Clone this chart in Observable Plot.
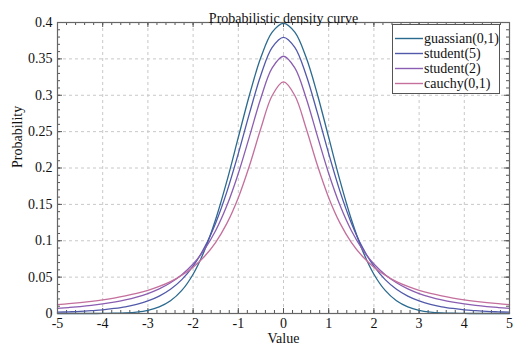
<!DOCTYPE html>
<html>
<head>
<meta charset="utf-8">
<script src="https://cdn.jsdelivr.net/npm/d3@7"></script>
<script src="https://cdn.jsdelivr.net/npm/@observablehq/plot@0.6"></script>
<style>
  body { margin: 0; background: #fff; }
  #wrap { position: relative; width: 531px; height: 354px; font-family: 'Liberation Serif', 'DejaVu Serif', serif; }
  #legend { position: absolute; left: 392px; top: 24px; width: 106px; height: 62px; border: 1px solid #555; background: #fff; padding-top: 6px; box-sizing: content-box; }
  .row { height: 15px; display: flex; align-items: center; font-size: 14px; color: #111; line-height: 15px; font-family: 'Liberation Serif', 'DejaVu Serif', serif; }
  .row svg { margin-left: 2px; margin-right: 1px; }
</style>
</head>
<body>
<div id="wrap"><div id="legend"></div></div>
<script>
const title = "Probabilistic density curve";
const xLabel = "Value";
const yLabel = "Probability";
const seriesNames = ["guassian(0,1)", "student(5)", "student(2)", "cauchy(0,1)"];
const seriesColors = ["#2b6a8f", "#5159aa", "#8b5db2", "#c46f9c"];

const xs = [-5,-4.75,-4.5,-4.25,-4,-3.75,-3.5,-3.25,-3,-2.75,-2.5,-2.25,-2,-1.75,-1.5,-1.25,-1,-0.75,-0.5,-0.25,0,
            0.25,0.5,0.75,1,1.25,1.5,1.75,2,2.25,2.5,2.75,3,3.25,3.5,3.75,4,4.25,4.5,4.75,5];

const gaussian = [0.0000,0.0000,0.0000,0.0000,0.0001,0.0004,0.0009,0.0020,0.0044,0.0091,0.0175,0.0317,0.0540,0.0863,0.1295,0.1826,0.2420,0.3011,0.3521,0.3867,0.3989,
                  0.3867,0.3521,0.3011,0.2420,0.1826,0.1295,0.0863,0.0540,0.0317,0.0175,0.0091,0.0044,0.0020,0.0009,0.0004,0.0001,0.0000,0.0000,0.0000,0.0000];
const student5 = [0.0018,0.0023,0.0029,0.0039,0.0051,0.0069,0.0092,0.0126,0.0173,0.0239,0.0333,0.0466,0.0651,0.0905,0.1245,0.1679,0.2197,0.2757,0.3279,0.3657,0.3796,
                  0.3657,0.3279,0.2757,0.2197,0.1679,0.1245,0.0905,0.0651,0.0466,0.0333,0.0239,0.0173,0.0126,0.0092,0.0069,0.0051,0.0039,0.0029,0.0023,0.0018];
const student2 = [0.0071,0.0082,0.0095,0.0111,0.0131,0.0155,0.0186,0.0225,0.0274,0.0338,0.0422,0.0533,0.0680,0.0878,0.1141,0.1487,0.1925,0.2438,0.2963,0.3376,0.3536,
                  0.3376,0.2963,0.2438,0.1925,0.1487,0.1141,0.0878,0.0680,0.0533,0.0422,0.0338,0.0274,0.0225,0.0186,0.0155,0.0131,0.0111,0.0095,0.0082,0.0071];
const cauchy = [0.0122,0.0135,0.0150,0.0167,0.0187,0.0212,0.0241,0.0275,0.0318,0.0372,0.0439,0.0525,0.0637,0.0784,0.0979,0.1242,0.1592,0.2037,0.2546,0.2996,0.3183,
                0.2996,0.2546,0.2037,0.1592,0.1242,0.0979,0.0784,0.0637,0.0525,0.0439,0.0372,0.0318,0.0275,0.0241,0.0212,0.0187,0.0167,0.0150,0.0135,0.0122];

const xMajor = [-5,-4,-3,-2,-1,0,1,2,3,4,5];
const xTickLabels = ["-5","-4","-3","-2","-1","0","1","2","3","4","5"];
const yMajor = [0,0.05,0.1,0.15,0.2,0.25,0.3,0.35,0.4];
const yTickLabels = ["0","0.05","0.1","0.15","0.2","0.25","0.3","0.35","0.4"];
const xMinor = d3.range(-50, 51, 2).map(d => d / 10);
const yMinor = d3.range(0, 41, 1).map(d => d / 100);

const allSeries = [gaussian, student5, student2, cauchy];
const rows = [];
allSeries.forEach((vals, si) => vals.forEach((v, i) => rows.push({x: xs[i], y: v, s: seriesNames[si]})));

const W = 531, H = 354, mL = 57, mR = 22, mT = 22, mB = 41;
const iw = W - mL - mR, ih = H - mT - mB;
const tickCol = "#555";
const FF = "'Liberation Serif', 'DejaVu Serif', serif";

const chart = Plot.plot({
  width: W, height: H,
  marginLeft: mL, marginRight: mR, marginTop: mT, marginBottom: mB,
  style: `font-family: ${FF}; font-size: 14px; color: #111; background: #fff;`,
  x: { domain: [-5, 5] },
  y: { domain: [0, 0.4] },
  color: { domain: seriesNames, range: seriesColors },
  marks: [
    Plot.gridX(xMajor, { stroke: "#c8c8c8", strokeOpacity: 1, strokeDasharray: "3,3" }),
    Plot.gridY(yMajor, { stroke: "#c8c8c8", strokeOpacity: 1, strokeDasharray: "3,3" }),
    Plot.tickX(xMinor, { x: d => d, insetTop: ih - 3, stroke: tickCol }),
    Plot.tickX(xMinor, { x: d => d, insetBottom: ih - 3, stroke: tickCol }),
    Plot.tickY(yMinor, { y: d => d, insetRight: iw - 3, stroke: tickCol }),
    Plot.tickY(yMinor, { y: d => d, insetLeft: iw - 3, stroke: tickCol }),
    Plot.tickX(xMajor, { x: d => d, insetTop: ih - 5, stroke: tickCol }),
    Plot.tickX(xMajor, { x: d => d, insetBottom: ih - 5, stroke: tickCol }),
    Plot.tickY(yMajor, { y: d => d, insetRight: iw - 5, stroke: tickCol }),
    Plot.tickY(yMajor, { y: d => d, insetLeft: iw - 5, stroke: tickCol }),
    Plot.line(rows, { x: "x", y: "y", z: "s", stroke: "s", strokeWidth: 1.3, curve: "catmull-rom" }),
    Plot.frame({ stroke: "#666", strokeWidth: 1.2 }),
    Plot.axisX(xMajor, { tickSize: 0, tickPadding: 5, fontSize: 14, label: null, tickFormat: (d, i) => xTickLabels[i] }),
    Plot.axisY(yMajor, { tickSize: 0, tickPadding: 5, fontSize: 14, label: null, tickFormat: (d, i) => yTickLabels[i] }),
    Plot.text([xLabel], { frameAnchor: "bottom", dy: 29, fontSize: 14, fill: "#111" }),
    Plot.text([yLabel], { frameAnchor: "left", dx: -40, rotate: -90, fontSize: 14, fill: "#111" }),
    Plot.text([title], { frameAnchor: "top", dy: -9, fontSize: 14, fill: "#111" })
  ]
});
// force serif family and 14px size on every text of the chart
chart.querySelectorAll("text").forEach(t => {
  t.style.fontFamily = FF;
  t.style.fontSize = "14px";
});
document.getElementById("wrap").prepend(chart);

const legend = document.getElementById("legend");
seriesNames.forEach((n, i) => {
  const r = document.createElement("div");
  r.className = "row";
  r.innerHTML = `<svg width="28" height="15"><line x1="0" x2="28" y1="7.5" y2="7.5" stroke="${seriesColors[i]}" stroke-width="1.4"/></svg><span>${n}</span>`;
  legend.appendChild(r);
});
</script>
</body>
</html>
